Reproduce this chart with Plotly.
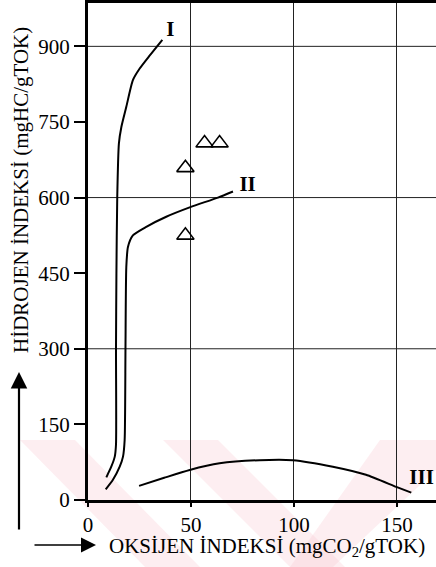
import plotly.graph_objects as go

# Van Krevelen type diagram: hydrogen index vs oxygen index
# Kerogen type I curve
type1_oi = [8.9, 11.3, 13.0, 13.6, 13.6, 13.8, 14.2, 15.0, 16.2, 18.6, 21.8, 25.1, 30.0, 36.1]
type1_hi = [45, 66, 86, 110, 300, 450, 600, 707, 740, 780, 833, 856, 882, 913]

# Kerogen type II curve
type2_oi = [8.6, 12.1, 15.4, 17.0, 17.8, 18.2, 18.6, 19.4, 21.8, 28.3, 38.0, 49.7, 63.1, 70.4]
type2_hi = [21, 40, 66, 86, 119, 300, 462, 502, 525, 542, 562, 581, 600, 612]

# Kerogen type III curve
type3_oi = [24.8, 37.0, 49.4, 63.9, 83.3, 99.5, 118.9, 135.0, 149.7, 157.0]
type3_hi = [28, 44, 59.5, 72.7, 79, 79, 66, 50, 26, 14.5]

# Sample points
sample_oi = [47.3, 47.3, 56.6, 63.9]
sample_hi = [659, 525, 708, 708]

# Curve labels
curve_labels = ["I", "II", "III"]
label_oi = [40.0, 77.5, 162.0]
label_hi = [930, 624, 43]

x_ticks = [0, 50, 100, 150]
y_ticks = [0, 150, 300, 450, 600, 750, 900]
y_grid = [300, 600, 900]

W, H = 436, 567
ML, MR, MT, MB = 88, 0, 3, 67
PW, PH = W - ML - MR, H - MT - MB

FONT = "Times New Roman, Liberation Serif, DejaVu Serif, serif"


def px(xp, yp):
    """Convert page pixel coordinates to paper coordinates."""
    return (xp - ML) / PW, (H - MB - yp) / PH


fig = go.Figure()

line_style = dict(color="black", width=2, shape="spline", smoothing=0.6)
for xs, ys in [(type1_oi, type1_hi), (type2_oi, type2_hi), (type3_oi, type3_hi)]:
    fig.add_trace(go.Scatter(x=xs, y=ys, mode="lines", line=line_style,
                             hoverinfo="skip", showlegend=False))

fig.add_trace(go.Scatter(
    x=sample_oi, y=sample_hi, mode="markers",
    marker=dict(symbol="triangle-up-open", size=15, color="black",
                line=dict(color="black", width=1.6)),
    showlegend=False))

fig.add_trace(go.Scatter(
    x=label_oi, y=label_hi, mode="text", text=[f"<b>{t}</b>" for t in curve_labels],
    textfont=dict(family=FONT, size=21, color="black"), showlegend=False))

# horizontal grid lines only at every second tick
shapes = []
for gy in y_grid:
    shapes.append(dict(type="line", xref="paper", yref="y", x0=0, x1=1, y0=gy, y1=gy,
                       line=dict(color="#222", width=1), layer="below"))

# faint diagonal watermark bands along the bottom
band_color = "rgba(250,200,210,0.3)"
bands = [
    [(20, 440), (75, 440), (200, 567), (145, 567)],
    [(163, 440), (218, 440), (345, 567), (290, 567)],
    [(380, 440), (436, 440), (436, 470), (333, 567), (290, 567)],
]
for poly in bands:
    pts = [px(a, b) for a, b in poly]
    path = "M " + " L ".join(f"{a:.4f},{b:.4f}" for a, b in pts) + " Z"
    shapes.append(dict(type="path", xref="paper", yref="paper", path=path,
                       fillcolor=band_color, line=dict(width=0), layer="below"))

annotations = []
# axis titles
tx, ty = px(21, 190)
annotations.append(dict(text="HİDROJEN İNDEKSİ (mgHC/gTOK)", xref="paper", yref="paper",
                        x=tx, y=ty, textangle=-90, showarrow=False,
                        xanchor="center", yanchor="middle",
                        font=dict(family=FONT, size=21, color="black")))
tx, ty = px(267, 547)
annotations.append(dict(text="OKSİJEN İNDEKSİ (mgCO<sub>2</sub>/gTOK)", xref="paper", yref="paper",
                        x=tx, y=ty, showarrow=False, xanchor="center", yanchor="middle",
                        font=dict(family=FONT, size=21, color="black")))
# direction arrows
ax_, ay_ = px(19, 372)
annotations.append(dict(text="", xref="paper", yref="paper", x=ax_, y=ay_,
                        ax=0, ay=159, showarrow=True, arrowhead=2, arrowsize=1.5,
                        arrowwidth=2.2, arrowcolor="black"))
ax_, ay_ = px(96, 545)
annotations.append(dict(text="", xref="paper", yref="paper", x=ax_, y=ay_,
                        ax=-63, ay=0, showarrow=True, arrowhead=2, arrowsize=2,
                        arrowwidth=1.5, arrowcolor="black"))

fig.update_layout(
    width=W, height=H,
    margin=dict(l=ML, r=MR, t=MT, b=MB, pad=0),
    paper_bgcolor="white", plot_bgcolor="white",
    shapes=shapes, annotations=annotations,
    font=dict(family=FONT, size=21, color="black"),
    xaxis=dict(range=[0, 169], tickvals=x_ticks, ticktext=[str(v) for v in x_ticks],
               showgrid=True, gridcolor="#222", gridwidth=1,
               showline=True, linecolor="black", linewidth=3, mirror=True,
               ticks="outside", ticklen=4, tickcolor="black", tickwidth=1.5,
               zeroline=False, tickfont=dict(family=FONT, size=21, color="black")),
    yaxis=dict(range=[0, 986], tickvals=y_ticks, ticktext=[str(v) for v in y_ticks],
               showgrid=False, showline=True, linecolor="black", linewidth=3,
               ticks="outside", ticklen=11, tickcolor="black", tickwidth=1.5,
               zeroline=False, tickfont=dict(family=FONT, size=21, color="black")),
)

fig.write_html("out.html")
